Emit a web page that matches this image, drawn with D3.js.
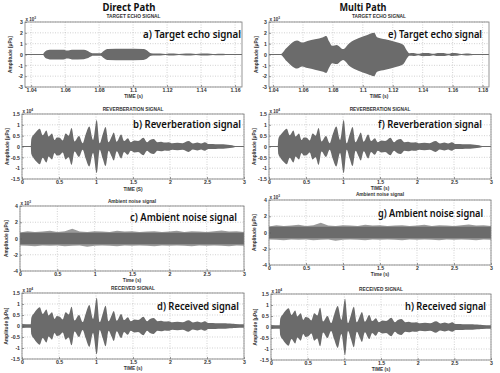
<!DOCTYPE html>
<html>
<head>
<meta charset="utf-8">
<script src="https://cdn.jsdelivr.net/npm/d3@7"></script>
<style>
  body { margin: 0; background: #fff; }
  svg text { font-family: "Liberation Sans", Arial, sans-serif; }
</style>
</head>
<body>
<script>
// ---- Data (amplitude in units of the "x 10^n" label) ----

// a) target echo, direct path
var echo_direct_time = [1.036, 1.0468, 1.0478, 1.049, 1.051, 1.059, 1.0612, 1.0625, 1.064, 1.071, 1.073, 1.0755, 1.0765,
    1.081, 1.0825, 1.085, 1.095, 1.106, 1.108, 1.1105, 1.113, 1.116, 1.119, 1.121, 1.124, 1.127, 1.131, 1.134, 1.137,
    1.14, 1.144, 1.147, 1.15, 1.153, 1.156, 1.158, 1.164];
var echo_direct_amp = [0, 0, 0.2, 0.38, 0.45, 0.45, 0.38, 0.4, 0.45, 0.43, 0.35, 0.15, 0.12,
    0.12, 0.3, 0.5, 0.52, 0.5, 0.4, 0.12, 0.1, 0.1, 0.05, 0.1, 0.1, 0.05, 0.1, 0.1, 0.05,
    0.09, 0.09, 0.04, 0.08, 0.07, 0.03, 0, 0];

// e) target echo, multi path
var echo_multi_time = [1.037, 1.0446, 1.049, 1.0545, 1.056, 1.0595, 1.063, 1.068, 1.0735, 1.0755, 1.0775, 1.0795, 1.0825,
    1.0868, 1.091, 1.097, 1.103, 1.1076, 1.1095, 1.115, 1.122, 1.127, 1.1295, 1.131, 1.134, 1.137, 1.14, 1.144, 1.147,
    1.15, 1.154, 1.157, 1.16, 1.163, 1.166, 1.169, 1.172, 1.175, 1.184];
var echo_multi_amp = [0, 0, 0.6, 1.25, 1.3, 1.1, 1.25, 1.4, 1.6, 1.7, 1.2, 0.8, 0.88,
    0.5, 1.05, 1.5, 1.8, 2.0, 1.6, 1.4, 1.15, 0.9, 0.35, 0.12, 0.14, 0.06, 0.15, 0.14, 0.06,
    0.14, 0.14, 0.06, 0.13, 0.12, 0.05, 0.1, 0.08, 0, 0];

// b) / f) reverberation, d) / h) received: common time grid
var rev_time = [0, 0.118, 0.126, 0.16, 0.2, 0.24, 0.28, 0.33, 0.36, 0.405, 0.44, 0.47, 0.51, 0.55, 0.59, 0.63,
    0.67, 0.71, 0.77, 0.82, 0.86, 0.91, 0.96, 1.01, 1.05, 1.09, 1.13, 1.17, 1.21, 1.24, 1.28, 1.34, 1.38,
    1.43, 1.47, 1.52, 1.57, 1.64, 1.69, 1.73, 1.78, 1.83, 1.88, 1.93, 1.98, 2.03, 2.1, 2.17, 2.25, 2.31,
    2.37, 2.42, 2.47, 2.52, 2.58, 2.65, 2.72, 2.78, 2.84, 2.88, 3.0];
var rev_amp = [0, 0, 0.35, 0.55, 0.72, 0.82, 0.52, 0.74, 0.46, 0.6, 0.3, 0.42, 0.4, 0.28, 0.6, 0.5,
    0.85, 0.23, 0.48, 0.15, 0.55, 0.92, 0.3, 1.22, 0.15, 0.55, 0.9, 0.2, 0.45, 0.65, 0.22, 0.55, 0.25,
    0.38, 0.2, 0.28, 0.25, 0.4, 0.2, 0.3, 0.35, 0.2, 0.22, 0.18, 0.2, 0.15, 0.17, 0.15, 0.25, 0.14,
    0.18, 0.14, 0.2, 0.12, 0.12, 0.1, 0.1, 0.08, 0.06, 0.02, 0];
var rec_amp = [0.09, 0.08, 0.38, 0.57, 0.75, 0.85, 0.55, 0.75, 0.48, 0.62, 0.32, 0.45, 0.42, 0.3, 0.62, 0.52,
    0.88, 0.25, 0.5, 0.18, 0.55, 0.95, 0.32, 1.28, 0.18, 0.55, 0.92, 0.22, 0.48, 0.68, 0.24, 0.55, 0.27,
    0.4, 0.22, 0.3, 0.27, 0.42, 0.22, 0.32, 0.36, 0.22, 0.24, 0.2, 0.22, 0.17, 0.19, 0.17, 0.26, 0.16,
    0.2, 0.16, 0.22, 0.14, 0.14, 0.12, 0.12, 0.11, 0.1, 0.09, 0.08];

// c) / g) ambient noise: outer (spiky) band edges
var noise_time = [0, 0.1, 0.2, 0.3, 0.4, 0.5, 0.6, 0.7, 0.8, 0.9, 1.0, 1.1, 1.2, 1.3, 1.4, 1.5,
    1.6, 1.7, 1.8, 1.9, 2.0, 2.1, 2.2, 2.3, 2.4, 2.5, 2.6, 2.7, 2.8, 2.9, 3.0];
var noise_upper = [0.75, 0.9, 0.8, 0.85, 0.95, 0.8, 0.9, 1.2, 0.85, 0.8, 0.9, 0.85, 0.8, 0.95, 0.85, 0.9,
    0.8, 0.85, 0.9, 0.8, 0.85, 0.95, 0.8, 0.9, 0.85, 0.8, 0.9, 1.0, 0.85, 0.9, 0.8];
var noise_lower = [-0.85, -0.9, -0.95, -0.85, -0.9, -0.85, -0.95, -0.9, -0.85, -1.0, -0.9, -0.85, -0.9, -0.95, -0.85, -0.9,
    -0.85, -0.9, -0.95, -0.85, -0.9, -0.85, -0.9, -0.95, -0.85, -0.9, -0.85, -0.9, -0.95, -0.85, -0.9];
var noise_core = 0.72;

// tick values
var echo_direct_ticks = [1.04, 1.06, 1.08, 1.1, 1.12, 1.14, 1.16];
var echo_multi_ticks = [1.04, 1.06, 1.08, 1.1, 1.12, 1.14, 1.16, 1.18];
var time_ticks = [0, 0.5, 1, 1.5, 2, 2.5, 3];
var echo_amp_ticks = [-3, -2, -1, 0, 1, 2, 3];
var rev_amp_ticks = [-1.5, -1, -0.5, 0, 0.5, 1, 1.5];
var noise_amp_ticks = [-4, -2, 0, 2, 4];

// ---- Styles ----
var signal_color = "#6b6b6b";
var noise_light = "#9a9a9a";
var grid_color = "#b4b4b4";
var box_color = "#7a7a7a";
var tick_text_color = "#333";

var svg = d3.select("body").append("svg")
    .attr("width", 500).attr("height", 373);

svg.append("rect").attr("width", 500).attr("height", 373).attr("fill", "#fff");

// Column headings
function heading(txt, cx, len) {
    svg.append("text")
        .attr("x", cx).attr("y", 10.5)
        .attr("text-anchor", "middle")
        .attr("textLength", len).attr("lengthAdjust", "spacingAndGlyphs")
        .style("font-family", "'Noto Sans', sans-serif")
        .style("font-size", "10.5px").style("font-weight", "bold")
        .attr("fill", "#111")
        .text(txt);
}
heading("Direct Path", 129, 53);
heading("Multi Path", 363, 47);

function small_text(x, y, txt, anchor, size) {
    return svg.append("text")
        .attr("x", x).attr("y", y)
        .attr("text-anchor", anchor || "middle")
        .style("font-size", size || "4.8px").style("font-weight", "bold")
        .attr("fill", "#333")
        .text(txt);
}

function draw_panel(p) {
    var x = d3.scaleLinear().domain(p.xdom).range([p.left, p.right]);
    var y = d3.scaleLinear().domain(p.ydom).range([p.bottom, p.top]);
    var g = svg.append("g");

    // dotted grid
    g.selectAll(".vgrid").data(p.xticks).enter().append("line")
        .attr("x1", d => x(d)).attr("x2", d => x(d))
        .attr("y1", p.top).attr("y2", p.bottom)
        .attr("stroke", grid_color).attr("stroke-width", 0.6)
        .attr("stroke-dasharray", "1,1.5");
    g.selectAll(".hgrid").data(p.yticks).enter().append("line")
        .attr("x1", p.left).attr("x2", p.right)
        .attr("y1", d => y(d)).attr("y2", d => y(d))
        .attr("stroke", grid_color).attr("stroke-width", 0.6)
        .attr("stroke-dasharray", "1,1.5");

    // zero trace
    g.append("line")
        .attr("x1", x(p.xdom[0])).attr("x2", x(p.xdom[1]))
        .attr("y1", y(0)).attr("y2", y(0))
        .attr("stroke", signal_color).attr("stroke-width", 1);

    // signal envelope
    var idx = d3.range(p.time.length);
    if (p.kind == "noise") {
        var outer = d3.area()
            .x(i => x(p.time[i]))
            .y0(i => y(p.lower[i]))
            .y1(i => y(p.upper[i]))
            .curve(d3.curveLinear);
        g.append("path").datum(idx).attr("d", outer).attr("fill", noise_light);
        var core = d3.area()
            .x(i => x(p.time[i]))
            .y0(y(-p.core))
            .y1(y(p.core));
        g.append("path").datum(idx).attr("d", core).attr("fill", signal_color);
    } else {
        var env = d3.area()
            .x(i => x(p.time[i]))
            .y0(i => y(-p.amp[i]))
            .y1(i => y(p.amp[i]))
            .curve(d3.curveMonotoneX);
        g.append("path").datum(idx).attr("d", env).attr("fill", signal_color);
    }

    // axes (inward ticks), then a box
    var fmt = d => String(d);
    var xa = g.append("g").attr("transform", "translate(0," + p.bottom + ")")
        .call(d3.axisBottom(x).tickValues(p.xticks).tickSize(-2).tickPadding(1.2).tickFormat(fmt));
    var ya = g.append("g").attr("transform", "translate(" + p.left + ",0)")
        .call(d3.axisLeft(y).tickValues(p.yticks).tickSize(-2).tickPadding(2).tickFormat(fmt));
    [xa, ya].forEach(function (a) {
        a.select(".domain").remove();
        a.selectAll("line").attr("stroke", "#555").attr("stroke-width", 0.6);
        a.selectAll("text")
            .style("font-family", "'Liberation Sans', Arial, sans-serif")
            .style("font-size", "5.2px").style("font-weight", "bold")
            .attr("fill", tick_text_color);
    });

    g.append("rect")
        .attr("x", p.left).attr("y", p.top)
        .attr("width", p.right - p.left).attr("height", p.bottom - p.top)
        .attr("fill", "none").attr("stroke", box_color).attr("stroke-width", 0.8);

    // exponent, title, axis labels
    var ex = small_text(p.left + 0.5, p.top - 1.5, "x 10", "start", "4.5px");
    ex.append("tspan").attr("dy", -1.8).style("font-size", "3.2px").text(p.exp);

    small_text((p.left + p.right) / 2, p.title_y, p.title);
    small_text((p.left + p.right) / 2, p.xlabel_y, p.xlabel);
    svg.append("text")
        .attr("transform", "translate(" + p.ylabel_x + "," + ((p.top + p.bottom) / 2) + ") rotate(-90)")
        .attr("text-anchor", "middle")
        .style("font-size", "4.8px").style("font-weight", "bold")
        .attr("fill", "#333")
        .text("Amplitude [\u03bcPa]");

    // annotation
    svg.append("text")
        .attr("x", p.note_x).attr("y", p.note_y)
        .attr("textLength", p.note_len).attr("lengthAdjust", "spacingAndGlyphs")
        .style("font-family", "'Noto Sans', sans-serif")
        .style("font-size", "10.5px").style("font-weight", "600")
        .attr("fill", "#111")
        .text(p.note);
}

// ---- Left column: direct path ----
draw_panel({kind: "echo", time: echo_direct_time, amp: echo_direct_amp,
    xdom: [1.0364, 1.1641], ydom: [-3, 3], xticks: echo_direct_ticks, yticks: echo_amp_ticks,
    left: 25, right: 242, top: 22, bottom: 87, exp: "3",
    title: "TARGET ECHO SIGNAL", title_y: 18, xlabel: "TIME (s)", xlabel_y: 98, ylabel_x: 12,
    note: "a) Target echo signal", note_x: 143, note_y: 38, note_len: 98});

draw_panel({kind: "echo", time: rev_time, amp: rev_amp,
    xdom: [0, 3], ydom: [-1.5, 1.5], xticks: time_ticks, yticks: rev_amp_ticks,
    left: 22, right: 244, top: 114, bottom: 179, exp: "4",
    title: "REVERBERATION SIGNAL", title_y: 110.5, xlabel: "TIME (S)", xlabel_y: 191, ylabel_x: 9,
    note: "b) Reverberation signal", note_x: 133, note_y: 128, note_len: 108});

draw_panel({kind: "noise", time: noise_time, upper: noise_upper, lower: noise_lower, core: noise_core,
    xdom: [0, 3], ydom: [-4, 4], xticks: time_ticks, yticks: noise_amp_ticks,
    left: 20, right: 244, top: 206, bottom: 271, exp: "3",
    title: "Ambient noise signal", title_y: 202.5, xlabel: "Time (s)", xlabel_y: 281.5, ylabel_x: 8,
    note: "c) Ambient noise signal", note_x: 130, note_y: 221, note_len: 107});

draw_panel({kind: "echo", time: rev_time, amp: rec_amp,
    xdom: [0, 3], ydom: [-1.5, 1.5], xticks: time_ticks, yticks: rev_amp_ticks,
    left: 22, right: 244, top: 293, bottom: 359, exp: "4",
    title: "RECEIVED SIGNAL", title_y: 290, xlabel: "TIME (s)", xlabel_y: 370, ylabel_x: 8,
    note: "d) Received signal", note_x: 157, note_y: 310, note_len: 82});

// ---- Right column: multi path ----
draw_panel({kind: "echo", time: echo_multi_time, amp: echo_multi_amp,
    xdom: [1.0373, 1.1843], ydom: [-3, 3], xticks: echo_multi_ticks, yticks: echo_amp_ticks,
    left: 269, right: 489, top: 22, bottom: 87, exp: "3",
    title: "TARGET ECHO SIGNAL", title_y: 18, xlabel: "TIME (s)", xlabel_y: 98, ylabel_x: 258,
    note: "e) Target echo signal", note_x: 388, note_y: 38, note_len: 94});

draw_panel({kind: "echo", time: rev_time, amp: rev_amp,
    xdom: [0, 3], ydom: [-1.5, 1.5], xticks: time_ticks, yticks: rev_amp_ticks,
    left: 269, right: 491, top: 114, bottom: 179, exp: "4",
    title: "REVERBERATION SIGNAL", title_y: 110.5, xlabel: "TIME (s)", xlabel_y: 189.5, ylabel_x: 256,
    note: "f) Reverberation signal", note_x: 378, note_y: 128, note_len: 104});

draw_panel({kind: "noise", time: noise_time, upper: noise_upper, lower: noise_lower, core: noise_core,
    xdom: [0, 3], ydom: [-4, 4], xticks: time_ticks, yticks: noise_amp_ticks,
    left: 269, right: 491, top: 200, bottom: 265, exp: "3",
    title: "Ambient noise signal", title_y: 195.5, xlabel: "Time (s)", xlabel_y: 275.5, ylabel_x: 256,
    note: "g) Ambient noise signal", note_x: 378, note_y: 217, note_len: 105});

draw_panel({kind: "echo", time: rev_time, amp: rec_amp,
    xdom: [0, 3], ydom: [-1.5, 1.5], xticks: time_ticks, yticks: rev_amp_ticks,
    left: 271, right: 491, top: 294, bottom: 360, exp: "4",
    title: "RECEIVED SIGNAL", title_y: 291, xlabel: "TIME (s)", xlabel_y: 370.5, ylabel_x: 257,
    note: "h) Received signal", note_x: 405, note_y: 310, note_len: 81});
</script>
</body>
</html>
